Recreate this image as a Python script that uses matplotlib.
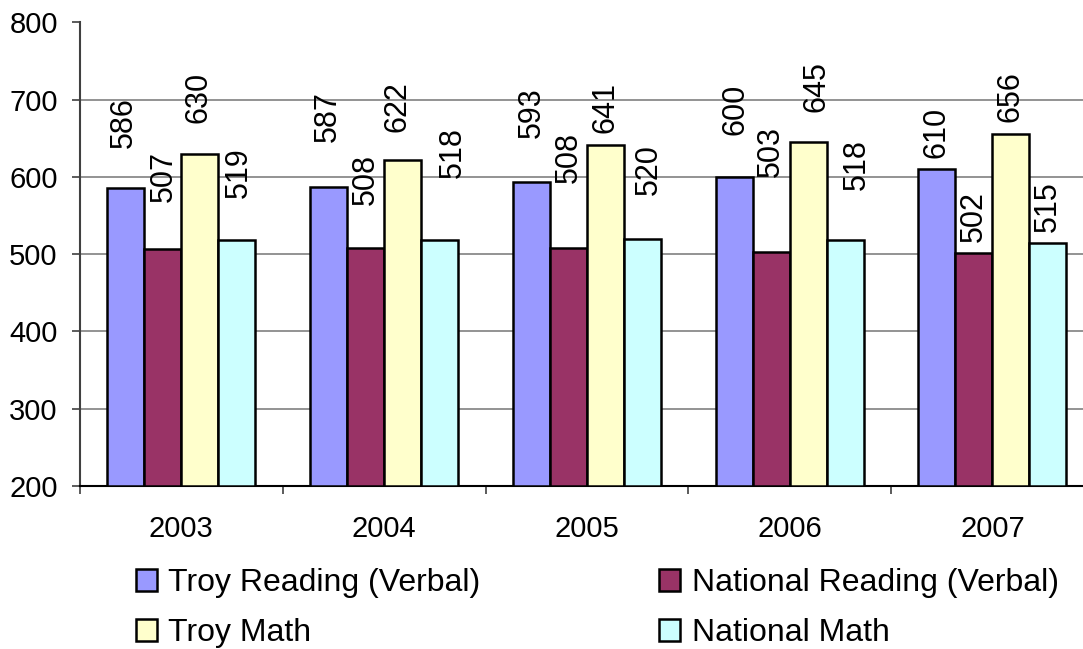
import matplotlib
matplotlib.use("Agg")
import matplotlib.pyplot as plt
import numpy as np
from matplotlib.patches import Patch

plt.rcParams['font.family'] = ['Liberation Sans', 'DejaVu Sans']

years = ['2003', '2004', '2005', '2006', '2007']
series_names = ['Troy Reading (Verbal)', 'National Reading (Verbal)', 'Troy Math', 'National Math']
troy_reading = [586, 587, 593, 600, 610]
national_reading = [507, 508, 508, 503, 502]
troy_math = [630, 622, 641, 645, 656]
national_math = [519, 518, 520, 518, 515]

colors = ['#9999FF', '#993366', '#FFFFCC', '#CCFFFF']

# label placement (pixels above bar top, horizontal shift in pixels)
label_gap = [
    [40, 45, 44, 42, 11],
    [47, 43, 65, 75, 11],
    [31, 28, 12, 30, 12],
    [42, 62, 44, 50, 11],
]
label_dx = [
    [-2, -1, 0, 1, 0],
    [1, 0, 0, 0, 0],
    [-1, -5, 0, 8, 0],
    [2, 13, 6, 12, 0],
]

W, H = 1083, 649
fig = plt.figure(figsize=(W / 100, H / 100), dpi=100)
fig.patch.set_facecolor('white')
ax = fig.add_axes([80 / W, 163 / H, 1013.75 / W, 463.5 / H])

data = [troy_reading, national_reading, troy_math, national_math]
x = np.arange(len(years))
bw = 0.1825
for i, (vals, c) in enumerate(zip(data, colors)):
    xs = x + (i - 1.5) * bw
    ax.bar(xs, np.array(vals) - 200, bottom=200, width=bw, color=c,
           edgecolor='black', linewidth=1.8, zorder=3)
    for j, v in enumerate(vals):
        ax.annotate(str(v), xy=(xs[j], v), xytext=(label_dx[i][j], label_gap[i][j]),
                    textcoords='offset pixels', rotation=90, ha='center', va='bottom',
                    fontsize=22, color='black', zorder=4)

ax.set_xlim(-0.5, 4.5)
ax.set_ylim(200, 800)
ax.set_yticks(range(200, 801, 100))
ax.set_xticks(x)
ax.set_xticklabels(years)
ax.set_xticks(np.arange(-0.5, 5, 1), minor=True)
ax.tick_params(axis='x', which='major', length=0, labelsize=21, pad=21)
ax.tick_params(axis='x', which='minor', length=6, width=1.2, color='#404040', direction='out')
ax.tick_params(axis='y', length=6, width=1.2, color='#404040', labelsize=21, pad=10, direction='out')

ax.grid(axis='y', color='#808080', linewidth=1.2, zorder=0)
ax.set_axisbelow(True)
for s in ['top', 'right']:
    ax.spines[s].set_visible(False)
ax.spines['left'].set_color('#404040')
ax.spines['left'].set_linewidth(1.5)
ax.spines['bottom'].set_color('black')
ax.spines['bottom'].set_linewidth(1.5)

handles = [Patch(facecolor=c, edgecolor='black', linewidth=1.8) for c in colors]
order = [0, 2, 1, 3]
leg = fig.legend([handles[k] for k in order], [series_names[k] for k in order],
                 ncol=2, loc='upper left', bbox_to_anchor=(136 / W, 1 - 568 / H),
                 frameon=False, fontsize=23, handlelength=0.66, handleheight=0.66,
                 handletextpad=0.35, columnspacing=5.6, labelspacing=0.64,
                 borderpad=0, borderaxespad=0)

fig.savefig('out.png', dpi=100, facecolor='white')
